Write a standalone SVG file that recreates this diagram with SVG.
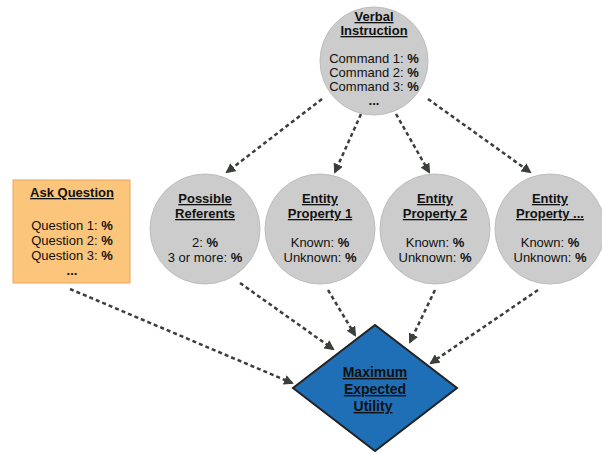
<svg xmlns="http://www.w3.org/2000/svg" width="602" height="453" viewBox="0 0 602 453">
<defs>
<style>
.c{fill:#cccccc;stroke:#bdbdbd;stroke-width:1}
.t{font-family:"Liberation Sans",Arial,sans-serif;font-size:13px;fill:#111;text-anchor:middle}
.h{font-weight:bold;text-decoration:underline}
.b{font-weight:bold}
.e{stroke:#3a3f3a;stroke-width:2.5;stroke-dasharray:4 3;fill:none;marker-end:url(#a)}
</style>
<marker id="a" viewBox="0 0 10 10" refX="8" refY="5" markerWidth="4" markerHeight="4" orient="auto" markerUnits="strokeWidth">
<path d="M0,0 L10,5 L0,10 z" fill="#3a3f3a"/>
</marker>
</defs>
<rect width="602" height="453" fill="#fff"/>
<g id="connectors">
<line class="e" x1="322" y1="99" x2="227" y2="172"/>
<line class="e" x1="361" y1="114" x2="335" y2="172"/>
<line class="e" x1="396" y1="114" x2="429" y2="172"/>
<line class="e" x1="428" y1="99" x2="530" y2="172"/>
<line class="e" x1="70" y1="289" x2="292" y2="383"/>
<line class="e" x1="240" y1="283" x2="333" y2="349"/>
<line class="e" x1="328" y1="290" x2="355" y2="335"/>
<line class="e" x1="435" y1="290" x2="410" y2="342"/>
<line class="e" x1="538" y1="290" x2="431" y2="363"/>
</g>
<g id="verbal">
<circle class="c" cx="374" cy="61" r="54"/>
<text class="t h" x="374" y="21">Verbal </text>
<text class="t h" x="374" y="35">Instruction</text>
<text class="t" x="374" y="63">Command 1: <tspan class="b">%</tspan></text>
<text class="t" x="374" y="77">Command 2: <tspan class="b">%</tspan></text>
<text class="t" x="374" y="91">Command 3: <tspan class="b">%</tspan></text>
<text class="t b" x="374" y="105">...</text>
</g>
<g id="ask">
<rect x="13" y="180" width="117" height="103" fill="#fbc67c" stroke="#e8a85c" stroke-width="1"/>
<text class="t h" x="72" y="197">Ask Question</text>
<text class="t" x="72" y="230">Question 1: <tspan class="b">%</tspan></text>
<text class="t" x="72" y="245">Question 2: <tspan class="b">%</tspan></text>
<text class="t" x="72" y="260">Question 3: <tspan class="b">%</tspan></text>
<text class="t b" x="72" y="275">...</text>
</g>
<g id="referents">
<circle class="c" cx="205" cy="229" r="55"/>
<text class="t h" x="205" y="203">Possible </text>
<text class="t h" x="205" y="218">Referents</text>
<text class="t" x="205" y="247">2: <tspan class="b">%</tspan></text>
<text class="t" x="205" y="262">3 or more: <tspan class="b">%</tspan></text>
</g>
<g id="prop1">
<circle class="c" cx="320" cy="229" r="55"/>
<text class="t h" x="320" y="203">Entity </text>
<text class="t h" x="320" y="218">Property 1</text>
<text class="t" x="320" y="247">Known: <tspan class="b">%</tspan></text>
<text class="t" x="320" y="262">Unknown: <tspan class="b">%</tspan></text>
</g>
<g id="prop2">
<circle class="c" cx="435" cy="229" r="55"/>
<text class="t h" x="435" y="203">Entity </text>
<text class="t h" x="435" y="218">Property 2</text>
<text class="t" x="435" y="247">Known: <tspan class="b">%</tspan></text>
<text class="t" x="435" y="262">Unknown: <tspan class="b">%</tspan></text>
</g>
<g id="propn">
<circle class="c" cx="550" cy="229" r="55"/>
<text class="t h" x="550" y="203">Entity </text>
<text class="t h" x="550" y="218">Property ...</text>
<text class="t" x="550" y="247">Known: <tspan class="b">%</tspan></text>
<text class="t" x="550" y="262">Unknown: <tspan class="b">%</tspan></text>
</g>
<g id="meu">
<polygon points="375,325 457,388 375,451 293,388" fill="#1f6fb6" stroke="#222" stroke-width="2"/>
<text class="t h" style="font-size:14px" x="375" y="377">Maximum</text>
<text class="t h" style="font-size:14px" x="375" y="394">Expected</text>
<text class="t h" style="font-size:14px" x="373" y="411">Utility</text>
</g>
</svg>
